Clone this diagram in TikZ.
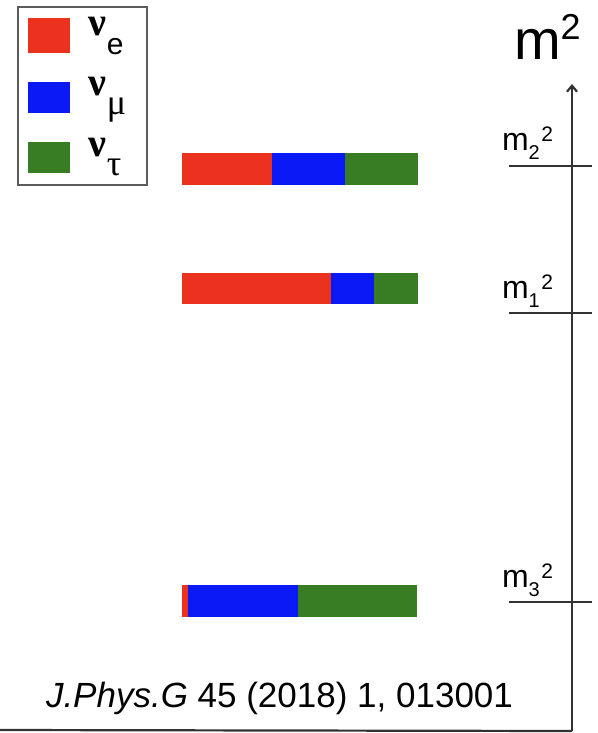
\documentclass[tikz,border=0pt]{standalone}
\usepackage{fontspec}
\setmainfont{Liberation Sans}
\newfontfamily\grfont{Liberation Serif}
\usetikzlibrary{arrows.meta}
\definecolor{nured}{RGB}{234,50,30}
\definecolor{nublue}{RGB}{10,25,245}
\definecolor{nugreen}{RGB}{56,124,36}
\definecolor{axgray}{RGB}{50,50,50}
\tikzset{
  axisline/.style={draw=axgray, line width=2.2pt},
  tickline/.style={draw=axgray, line width=2.2pt},
  legbox/.style={draw=axgray!80, line width=1.6pt},
  lbl/.style={anchor=base west, inner sep=0pt, outer sep=0pt},
}
\newcommand{\nulab}[1]{{\grfont\bfseries\fontsize{40}{40}\selectfont ν}\hspace{1pt}\raisebox{-19pt}{\fontsize{30}{30}\selectfont #1}}
\newcommand{\grsub}[1]{{\grfont\fontsize{36}{36}\selectfont #1}}
\newcommand{\mlab}[1]{\fontsize{32}{32}\selectfont m\raisebox{-9pt}{\fontsize{20}{20}\selectfont #1}\hspace{1.5pt}\raisebox{9pt}{\fontsize{21}{21}\selectfont 2}}
\begin{document}
\begin{tikzpicture}[x=1pt,y=-1pt]
\useasboundingbox (0,0) rectangle (597,733);
% legend
\draw[legbox] (18,7) rectangle (147,185);
\fill[nured] (28,18) rectangle (70,53);
\fill[nublue] (28,82) rectangle (70,113);
\fill[nugreen] (28,142) rectangle (70,173);
\node[lbl] (le) at (88,36) {\nulab{e}};
\node[lbl] (lm) at (88,96) {\nulab{\grsub{μ}}};
\node[lbl] (lt) at (88,156) {\nulab{\grsub{τ}}};
% bars
\fill[nured] (182,153) rectangle (272,185);
\fill[nublue] (272,153) rectangle (345,185);
\fill[nugreen] (345,153) rectangle (418,185);
\fill[nured] (182,273) rectangle (331,304);
\fill[nublue] (331,273) rectangle (374,304);
\fill[nugreen] (374,273) rectangle (418,304);
\fill[nured] (182,585) rectangle (188,617);
\fill[nublue] (188,585) rectangle (298,617);
\fill[nugreen] (298,585) rectangle (417,617);
% axis
\coordinate (axbot) at (572,731);
\coordinate (axtop) at (572,84);
\coordinate (bl) at (0,730);
\draw[axisline, -{Straight Barb[length=6pt,width=10pt]}] (axbot) -- (axtop);
\draw[axisline] (bl) -- (axbot);
\coordinate (t2l) at (509,166); \coordinate (t2r) at (592,166);
\coordinate (t1l) at (509,313); \coordinate (t1r) at (592,313);
\coordinate (t3l) at (509,602); \coordinate (t3r) at (592,602);
\draw[tickline] (t2l) -- (t2r);
\draw[tickline] (t1l) -- (t1r);
\draw[tickline] (t3l) -- (t3r);
\node[lbl] (m2) at (502,150) {\mlab{2}};
\node[lbl] (m1) at (502,298) {\mlab{1}};
\node[lbl] (m3) at (502,587) {\mlab{3}};
\node[lbl] (title) at (514,60) {\fontsize{56}{56}\selectfont m\raisebox{20pt}{\fontsize{36}{36}\selectfont 2}};
\node[lbl] (cite) at (46,707) {\fontsize{35}{35}\selectfont\textit{J.Phys.G} 45 (2018) 1, 013001};
\end{tikzpicture}
\end{document}
